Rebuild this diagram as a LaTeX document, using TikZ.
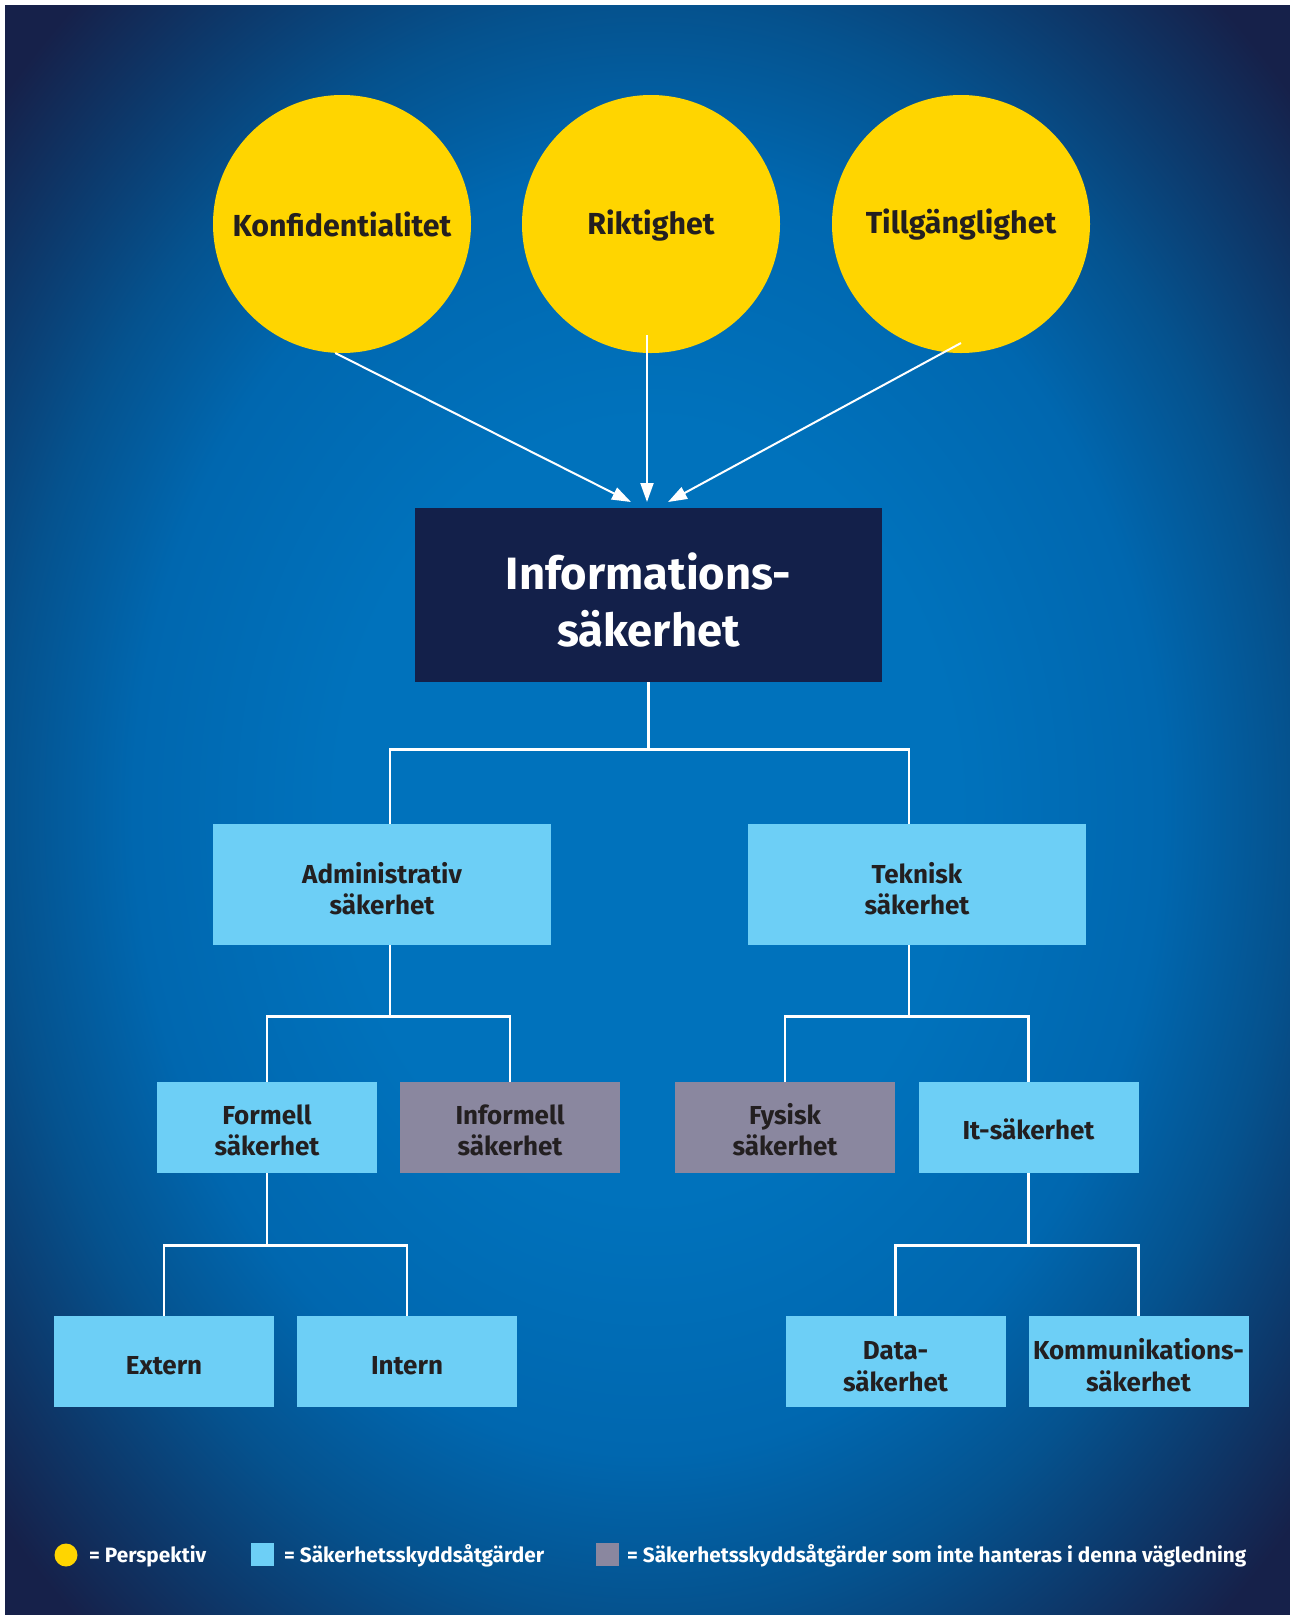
\documentclass[tikz,border=0pt]{standalone}
\usepackage{fontspec}
\setmainfont{Fira Sans}
\usetikzlibrary{arrows.meta}

\definecolor{navy}{HTML}{16214A}
\definecolor{boxnavy}{HTML}{13204A}
\definecolor{sunyellow}{HTML}{FFD500}
\definecolor{skyblue}{HTML}{6DCFF6}
\definecolor{slategray}{HTML}{8A879F}
\definecolor{inktext}{HTML}{231F20}
\definecolor{bgA}{HTML}{0072BC}
\definecolor{bgB}{HTML}{0067AF}
\definecolor{bgC}{HTML}{05528E}
\definecolor{bgD}{HTML}{0D386A}

% backdrop: bright blue centre fading to navy corners
% (the path's edge midpoints sit at 25bp, its corners near 35bp)
\pgfdeclareradialshading{backdrop}{\pgfpoint{0bp}{0bp}}{%
  color(0bp)=(bgA); color(12bp)=(bgA); color(20bp)=(bgB);
  color(25bp)=(bgC); color(29.5bp)=(bgD); color(33.5bp)=(navy); color(50bp)=(navy)}

% centred multi-line label, nudged down without changing its box
\newcommand\lbltext[2][7pt]{\raisebox{-#1}[\height][\depth]{\begin{tabular}{@{}c@{}}#2\end{tabular}}}

\tikzset{
  persp/.style={circle, fill=sunyellow, minimum size=258pt, inner sep=0pt,
    text=inktext, font=\fontsize{30.4}{36}\selectfont\bfseries},
  measure/.style={fill=skyblue, inner sep=0pt, text=inktext,
    minimum width=220pt, minimum height=91pt,
    font=\fontsize{26}{31.5}\selectfont\bfseries},
  bigmeasure/.style={measure, minimum width=338pt, minimum height=121pt},
  excluded/.style={measure, fill=slategray},
  tree/.style={draw=white, line width=2.6pt},
  feed/.style={draw=white, line width=2pt, -{Triangle[length=19pt,width=13pt]}},
  legendtext/.style={text=white, anchor=base west, inner sep=0pt,
    font=\fontsize{20.8}{24}\selectfont\bfseries},
}

\begin{document}
\begin{tikzpicture}[x=1pt, y=-1pt]
\useasboundingbox (0,0) rectangle (1290,1615);
\fill[white] (0,0) rectangle (1290,1615);
\shade[shading=backdrop] (5,5) rectangle (1290,1615);

% perspectives
\node[persp] (konf) at (342,224) {Konfidentialitet};
\node[persp] (rikt) at (651,224) {\raisebox{-2pt}[\height][\depth]{Riktighet}};
\node[persp] (till) at (961,224) {\raisebox{-1pt}[\height][\depth]{Tillgänglighet}};

% central node
\node[fill=boxnavy, minimum width=467pt, minimum height=174pt, inner sep=0pt,
  text=white, font=\fontsize{45.3}{57}\selectfont\bfseries]
  (info) at (648.5,595) {\lbltext[12pt]{Informations-\\säkerhet}};

% arrows from the perspectives
\coordinate (riktfoot) at (647,335);
\coordinate (tillfoot) at (961,343);
\coordinate (tipL) at (631,502);
\coordinate (tipM) at (647,502);
\coordinate (tipR) at (668,502);
\draw[feed] (konf.-93) -- (tipL);
\draw[feed] (riktfoot) -- (tipM);
\draw[feed] (tillfoot) -- (tipR);

% first level
\node[bigmeasure] (adm) at (382,884.5) {\lbltext[8pt]{Administrativ\\säkerhet}};
\node[bigmeasure] (tek) at (917,884.5) {\lbltext[8pt]{Teknisk\\säkerhet}};

% second level
\node[measure] (formell) at (267,1127.5) {\lbltext[6pt]{Formell\\säkerhet}};
\node[excluded] (informell) at (510,1127.5) {\lbltext[6pt]{Informell\\säkerhet}};
\node[excluded] (fysisk) at (785,1127.5) {\lbltext[6pt]{Fysisk\\säkerhet}};
\node[measure] (it) at (1028.5,1127.5) {\lbltext[6pt]{It-säkerhet}};

% third level
\node[measure] (extern) at (164,1361.5) {\lbltext[7pt]{Extern}};
\node[measure] (intern) at (407,1361.5) {\lbltext[7pt]{Intern}};
\node[measure] (data) at (895.5,1361.5) {\lbltext[7.5pt]{Data-\\säkerhet}};
\node[measure] (komm) at (1138.5,1361.5) {\lbltext[7.5pt]{Kommunikations-\\säkerhet}};

% tree connectors
\draw[tree] (info.south) -- ++(0,67) -| ([xshift=8pt]adm.north);
\draw[tree] (info.south) ++(0,67) -| ([xshift=-8pt]tek.north);
\draw[tree] ([xshift=8pt]adm.south) -- ++(0,71) -| (formell.north);
\draw[tree] ([xshift=8pt]adm.south) ++(0,71) -| (informell.north);
\draw[tree] ([xshift=-8pt]tek.south) -- ++(0,71) -| (fysisk.north);
\draw[tree] ([xshift=-8pt]tek.south) ++(0,71) -| (it.north);
\draw[tree] (formell.south) -- ++(0,72) -| (extern.north);
\draw[tree] (formell.south) ++(0,72) -| (intern.north);
\draw[tree] (it.south) -- ++(0,72) -| (data.north);
\draw[tree] (it.south) ++(0,72) -| (komm.north);

% legend
\node[circle, fill=sunyellow, minimum size=23pt, inner sep=0pt] (keyA) at (66,1555) {};
\node[legendtext] (keyAtext) at (89,1562) {= Perspektiv};
\node[fill=skyblue, minimum size=23pt, inner sep=0pt] (keyB) at (262.5,1554.5) {};
\node[legendtext] (keyBtext) at (284,1562) {= Säkerhetsskyddsåtgärder};
\node[fill=slategray, minimum size=23pt, inner sep=0pt] (keyC) at (607,1554.5) {};
\node[legendtext] (keyCtext) at (627,1562) {= Säkerhetsskyddsåtgärder som inte hanteras i denna vägledning};
\end{tikzpicture}
\end{document}
